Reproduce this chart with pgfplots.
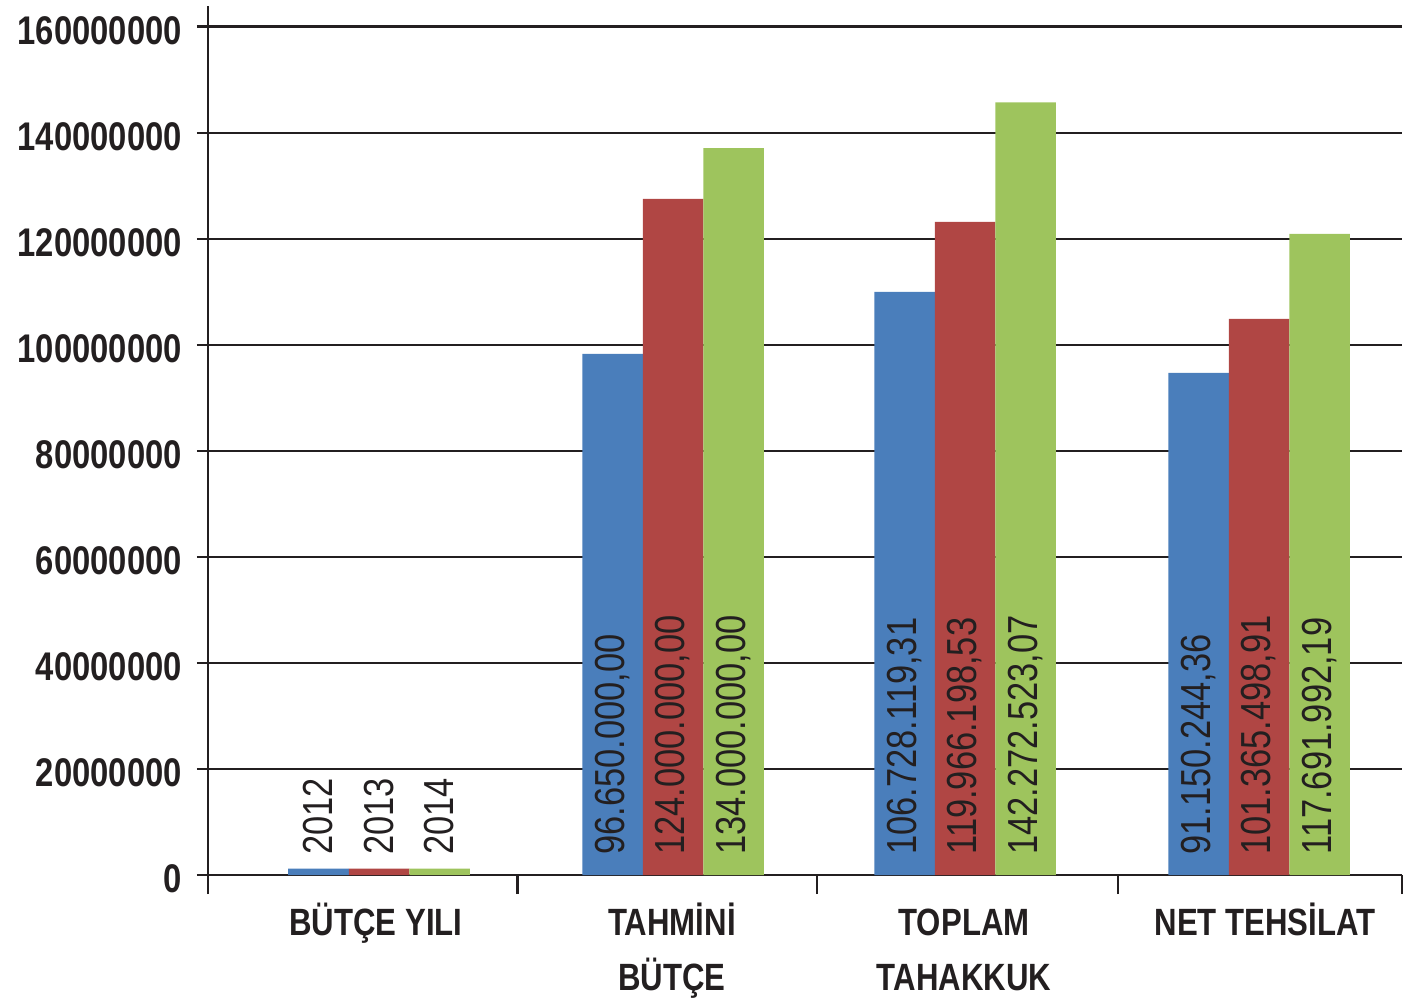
\documentclass[border=0pt]{standalone}
\usepackage{pgfplots}
\pgfplotsset{compat=1.18}
\usepackage{fontspec}
\IfFontExistsTF{Liberation Sans Narrow}
  {\setmainfont{Liberation Sans Narrow}}
  {\setmainfont{Liberation Sans}[FakeStretch=0.82]}
\definecolor{ink}{HTML}{231F20}
\definecolor{c2012}{HTML}{4A7EBB}
\definecolor{c2013}{HTML}{B04644}
\definecolor{c2014}{HTML}{9EC45D}
\pgfplotsset{
  barlabels/.style={
    mark=none, draw=none,
    nodes near coords,
    point meta=explicit symbolic,
    every node near coord/.style={
        yshift=10pt, rotate=90, anchor=west, inner sep=0pt,
        text=ink, font=\fontsize{21}{24}\selectfont},
  },
}
\begin{document}
\begin{tikzpicture}
\begin{axis}[
    at={(0,0)}, anchor=south west,
    scale only axis,
    width=597pt, height=434.5pt,
    xmin=208, xmax=1402,
    ymin=0, ymax=163.9e6,
    axis lines=left,
    axis line style={-, ink, line width=1.2pt},
    ymajorgrids=true,
    grid style={ink, line width=1.2pt},
    tick align=outside,
    major tick length=5.5pt,
    minor tick length=9.5pt,
    tick style={ink, line width=1.2pt},
    xtick={376,672,964,1265},
    major x tick style={draw=none},
    minor xtick={208,517.5,817,1118,1402},
    xticklabels={BÜTÇE YILI,{TAHMİNİ\\BÜTÇE},{\vphantom{Ü}TOPLAM\\TAHAKKUK},NET TEHSİLAT},
    xticklabel style={font=\fontsize{19}{27.5}\selectfont\bfseries, align=center, text=ink, yshift=-5pt},
    ytick={0,20000000,40000000,60000000,80000000,100000000,120000000,140000000,160000000},
    yticklabels={0,20000000,40000000,60000000,80000000,100000000,120000000,140000000,160000000},
    yticklabel style={font=\fontsize{20}{24}\selectfont\bfseries, text=ink, xshift=-4pt, yshift=-2pt},
    scaled y ticks=false,
  ]
% bars (heights as drawn)
\addplot[ybar, bar width=60.5, bar shift=-60.5, fill=c2012, draw=none]
  coordinates {(379,1.2e6) (673,98.27e6) (965,110.0e6) (1259,94.7e6)};
\addplot[ybar, bar width=60.5, bar shift=0, fill=c2013, draw=none]
  coordinates {(379,1.2e6) (673,127.5e6) (965,123.2e6) (1259,104.9e6)};
\addplot[ybar, bar width=60.5, bar shift=60.5, fill=c2014, draw=none]
  coordinates {(379,1.2e6) (673,137.1e6) (965,145.7e6) (1259,120.9e6)};
% value labels at the foot of each bar
\addplot[barlabels]
  coordinates {(318.5,0)[2012] (612.5,0)[96.650.000,00] (904.5,0)[106.728.119,31] (1198.5,0)[91.150.244,36]};
\addplot[barlabels]
  coordinates {(379,0)[2013] (673,0)[124.000.000,00] (965,0)[119.966.198,53] (1259,0)[101.365.498,91]};
\addplot[barlabels]
  coordinates {(439.5,0)[2014] (733.5,0)[134.000.000,00] (1025.5,0)[142.272.523,07] (1319.5,0)[117.691.992,19]};
\end{axis}
\pgfresetboundingbox
\path (-104pt,-63pt) rectangle (605.5pt,437.5pt);
\end{tikzpicture}
\end{document}
